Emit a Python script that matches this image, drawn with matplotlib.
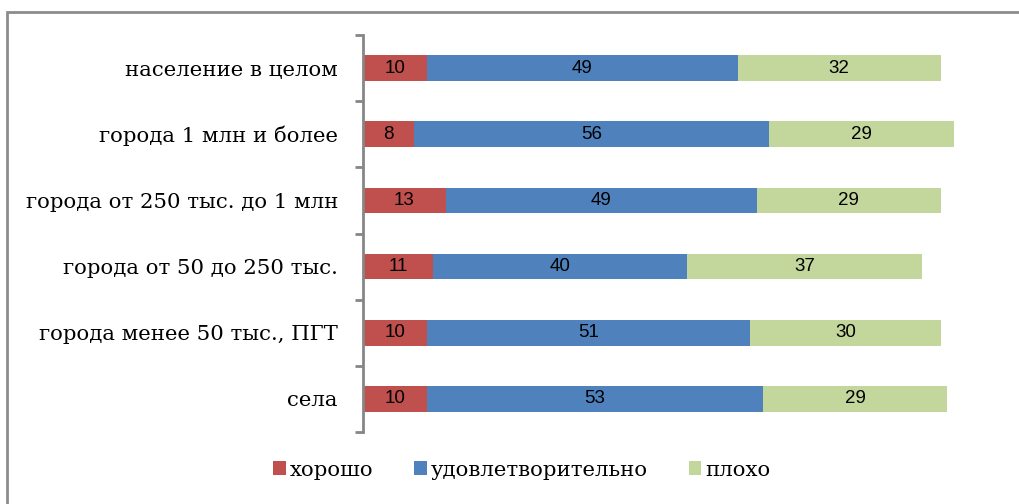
import matplotlib
matplotlib.use("Agg")
import matplotlib.pyplot as plt
from matplotlib.patches import Rectangle, Patch
import numpy as np

categories = ["население в целом", "города 1 млн и более", "города от 250 тыс. до 1 млн",
              "города от 50 до 250 тыс.", "города менее 50 тыс., ПГТ", "села"]
series_names = ["хорошо", "удовлетворительно", "плохо"]
good = [10, 8, 13, 11, 10, 10]
ok = [49, 56, 49, 40, 51, 53]
bad = [32, 29, 29, 37, 30, 29]
colors = ["#C0504D", "#4F81BD", "#C3D69B"]

W, H = 1019, 504
fig = plt.figure(figsize=(W / 100, H / 100), dpi=100)
fig.patch.set_facecolor("white")
fig.patches.append(Rectangle((7 / W, -0.1), 1.2, 1 - 12 / H + 0.1, transform=fig.transFigure,
                             fill=False, edgecolor="#8c8c8c", linewidth=2))

ax = fig.add_axes([363 / W, 1 - 432 / H, 635 / W, 397 / H])
y = np.arange(len(categories))
left = np.zeros(len(categories))
for vals, c in zip([good, ok, bad], colors):
    vals = np.array(vals, dtype=float)
    ax.barh(y, vals, left=left, height=0.39, color=c, edgecolor="none")
    for yi, l, v in zip(y, left, vals):
        ax.text(l + v / 2, yi, f"{int(v)}", ha="center", va="center",
                fontsize=13.5, family="Liberation Sans", color="black")
    left += vals

ax.set_xlim(0, 100)
ax.set_ylim(len(categories) - 0.5, -0.5)
ax.set_yticks(y)
ax.set_yticklabels(categories, family="DejaVu Serif", fontsize=15.3)
ax.set_yticks(np.arange(-0.5, len(categories)), minor=True)
ax.tick_params(axis="y", which="major", length=0, pad=18)
ax.tick_params(axis="y", which="minor", length=6, width=2, color="#868686")
ax.set_xticks([])
for s in ["top", "right", "bottom"]:
    ax.spines[s].set_visible(False)
ax.spines["left"].set_color("#868686")
ax.spines["left"].set_linewidth(2)

handles = [Patch(facecolor=c, edgecolor="none") for c in colors]
fig.legend(handles, series_names, loc="center", bbox_to_anchor=(522 / W, 1 - 470 / H),
           ncol=3, frameon=False, prop={"family": "DejaVu Serif", "size": 15.3},
           handlelength=0.6, handleheight=0.6, handletextpad=0.2, columnspacing=1.9)

fig.savefig("out.png", dpi=100)
